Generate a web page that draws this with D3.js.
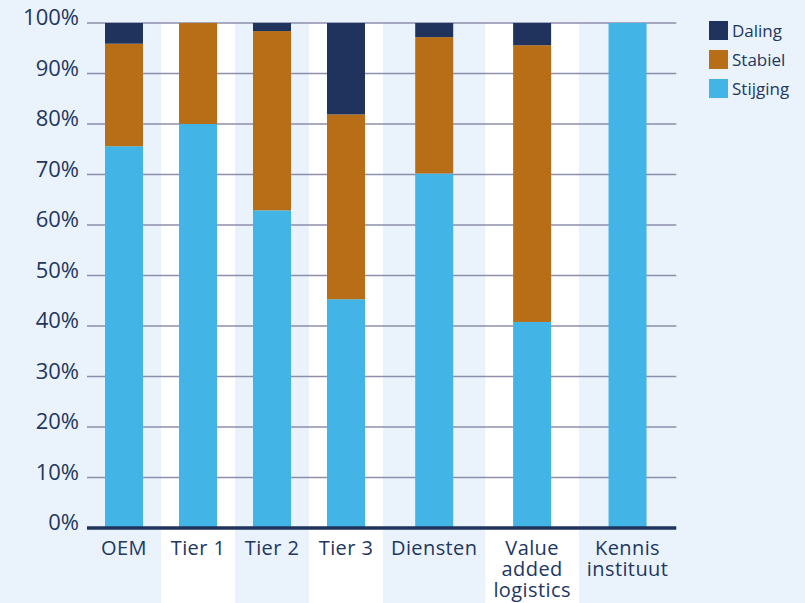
<!DOCTYPE html>
<html>
<head>
<meta charset="utf-8">
<script src="https://cdn.jsdelivr.net/npm/d3@7/dist/d3.min.js"></script>
<style>
  html, body { margin: 0; padding: 0; background: #eaf3fb; }
  svg { display: block; }
  text { font-family: "Open Sans", "Noto Sans", sans-serif; fill: #22375f; }
</style>
</head>
<body>
<svg id="chart" width="805" height="603"></svg>
<script>
// ---- data ----
const categories = ["OEM", "Tier 1", "Tier 2", "Tier 3", "Diensten", "Value added logistics", "Kennis instituut"];
const categoryLines = [["OEM"], ["Tier 1"], ["Tier 2"], ["Tier 3"], ["Diensten"], ["Value", "added", "logistics"], ["Kennis", "instituut"]];
const seriesNames = ["Stijging", "Stabiel", "Daling"];
const stijging = [75.6, 80.0, 62.9, 45.3, 70.2, 40.8, 100];
const stabiel  = [20.3, 20.0, 35.5, 36.6, 27.0, 54.8, 0];
const daling   = [4.1, 0, 1.6, 18.1, 2.8, 4.4, 0];
const yTicks = [0, 10, 20, 30, 40, 50, 60, 70, 80, 90, 100];
const legendOrder = ["Daling", "Stabiel", "Stijging"];
const colors = { "Daling": "#1f335c", "Stabiel": "#b86e17", "Stijging": "#42b4e6" };

// ---- layout ----
const svg = d3.select("#chart");
const mLeft = 87, mTop = 23, mBottom = 528;
const barW = 38, minCol = 74, labelSize = 20, labelSpacing = 0.4, lineH = 21;

// measure labels to size columns (table-like layout)
const meas = svg.append("text").style("font-size", labelSize + "px").style("letter-spacing", labelSpacing + "px");
const colWidths = categoryLines.map(lines => {
  let w = 0;
  lines.forEach(l => { meas.text(l); w = Math.max(w, meas.node().getComputedTextLength()); });
  return Math.max(minCol, w + 16);
});
meas.remove();
const starts = [];
colWidths.reduce((acc, w, i) => { starts[i] = acc; return acc + w; }, mLeft);
const mRight = starts[starts.length - 1] + colWidths[colWidths.length - 1];

const xStart = d3.scaleOrdinal().domain(categories).range(starts);
const xWidth = d3.scaleOrdinal().domain(categories).range(colWidths);
const y = d3.scaleLinear().domain([0, 100]).range([mBottom, mTop]);

// alternating white column bands
svg.append("g").selectAll("rect")
  .data(categories.filter((c, i) => i % 2 === 1))
  .join("rect")
  .attr("x", d => xStart(d))
  .attr("y", mTop)
  .attr("width", d => xWidth(d))
  .attr("height", 603 - mTop)
  .attr("fill", "#ffffff");

// gridlines
svg.append("g").selectAll("line")
  .data(yTicks.filter(t => t > 0))
  .join("line")
  .attr("x1", mLeft).attr("x2", mRight)
  .attr("y1", d => y(d)).attr("y2", d => y(d))
  .attr("stroke", "#8e8eab").attr("stroke-width", 1.5);

// tick labels
svg.append("g").selectAll("text")
  .data(yTicks)
  .join("text")
  .attr("x", 79)
  .attr("y", d => y(d) + 2)
  .attr("text-anchor", "end")
  .style("font-size", "22px")
  .text(d => d + "%");

// stacked bars
const rows = categories.map((c, i) => ({ cat: c, Stijging: stijging[i], Stabiel: stabiel[i], Daling: daling[i] }));
const stack = d3.stack().keys(seriesNames)(rows);
svg.append("g").selectAll("g")
  .data(stack)
  .join("g")
  .attr("fill", d => colors[d.key])
  .selectAll("rect")
  .data(d => d.filter(p => p[1] - p[0] > 0))
  .join("rect")
  .attr("x", d => xStart(d.data.cat) + (xWidth(d.data.cat) - barW) / 2)
  .attr("y", d => y(d[1]))
  .attr("width", barW)
  .attr("height", d => y(d[0]) - y(d[1]));

// baseline axis
svg.append("line")
  .attr("x1", mLeft).attr("x2", mRight)
  .attr("y1", y(0)).attr("y2", y(0))
  .attr("stroke", "#1f335c").attr("stroke-width", 3.5);

// category labels (one text per line)
const labelData = [];
categories.forEach((c, i) => categoryLines[i].forEach((l, j) => labelData.push({ cat: c, line: l, j })));
svg.append("g").selectAll("text")
  .data(labelData)
  .join("text")
  .attr("text-anchor", "middle")
  .style("font-size", labelSize + "px")
  .style("letter-spacing", labelSpacing + "px")
  .attr("x", d => xStart(d.cat) + xWidth(d.cat) / 2)
  .attr("y", d => 555 + d.j * lineH)
  .text(d => d.line);

// legend
const lg = svg.append("g").selectAll("g")
  .data(legendOrder)
  .join("g")
  .attr("transform", (d, i) => `translate(709,${21 + i * 29})`);
lg.append("rect").attr("width", 19).attr("height", 19).attr("fill", d => colors[d]);
lg.append("text").attr("x", 23).attr("y", 15.5).style("font-size", "17px").text(d => d);
</script>
</body>
</html>
